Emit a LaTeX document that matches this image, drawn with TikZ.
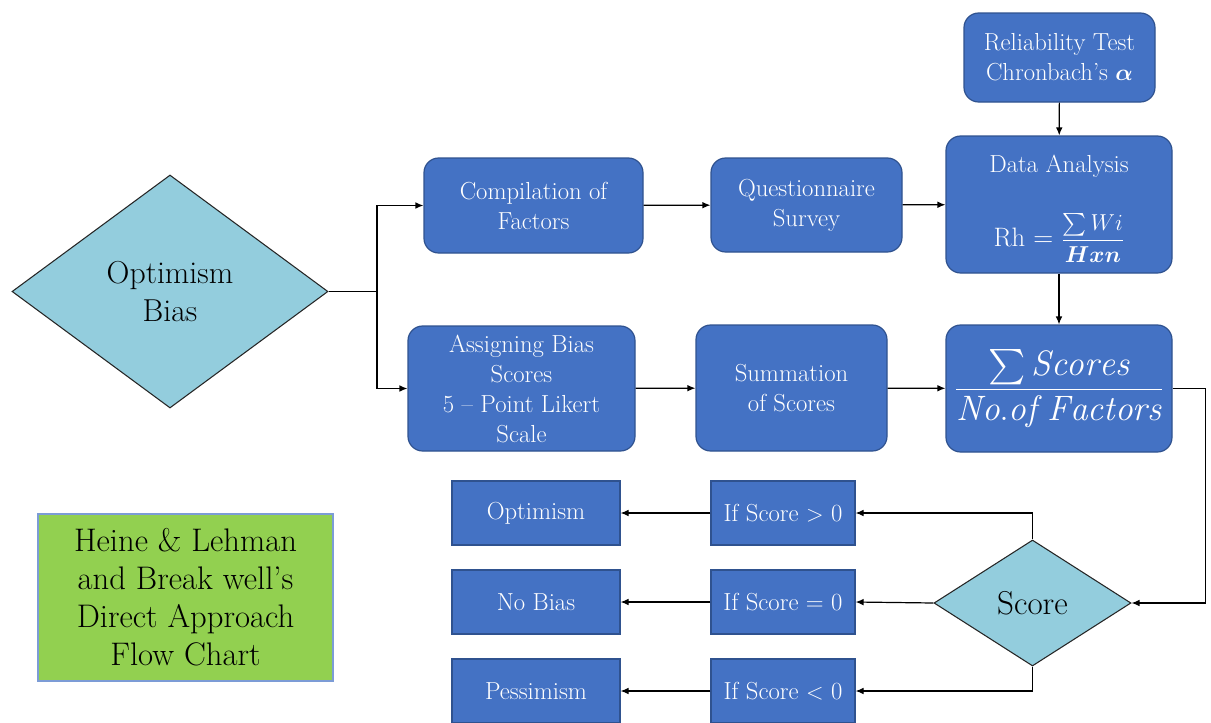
\documentclass[tikz,border=0pt]{standalone}
\usepackage{amsmath}
\usepackage{amssymb}
\usepackage{fontspec}
\usepackage{tikz}
\usetikzlibrary{arrows.meta,shapes.geometric}
\usepackage{xcolor}
\definecolor{boxblue}{HTML}{4472C4}
\definecolor{edgeblue}{HTML}{2F528F}
\definecolor{diamondblue}{HTML}{93CDDD}
\definecolor{notegreen}{HTML}{92D050}

\begin{document}
\begin{tikzpicture}[
  x=0.75pt, y=-0.75pt,
  stepbox/.style={rounded corners=11pt, draw=edgeblue, fill=boxblue, line width=0.9pt,
                  text=white, align=center, inner sep=2pt,
                  font=\fontsize{18.5}{22.5}\selectfont},
  flatbox/.style={stepbox, rounded corners=0pt, minimum width=108pt, minimum height=48pt},
  outbox/.style={flatbox, minimum width=126pt},
  decision/.style={diamond, draw=black!85, fill=diamondblue, line width=0.8pt,
                   inner sep=0pt, align=center, text=black},
  notebox/.style={draw=boxblue!70, fill=notegreen, line width=0.8pt, align=center,
                  font=\fontsize{24.5}{28.5}\selectfont},
  arr/.style={-{Latex[length=6pt,width=5pt]}, line width=0.9pt, draw=black},
  link/.style={line width=0.9pt, draw=black}
]
  \useasboundingbox (0,0) rectangle (1211,722);

  % --- Start decision ---
  \node[decision, minimum width=237pt, minimum height=174.75pt,
        font=\fontsize{23.8}{28}\selectfont] (optbias) at (170,291.5) {Optimism\\Bias};

  % --- Upper row ---
  \node[stepbox, minimum width=164.25pt, minimum height=71.25pt] (compile)
       at (533.5,205.5) {Compilation of\\Factors};
  \node[stepbox, minimum width=143.25pt, minimum height=70.5pt] (survey)
       at (806.5,205) {Questionnaire\\Survey};
  \node[stepbox, minimum width=169.5pt, minimum height=102.75pt] (analysis)
       at (1059,204.5) {};
  \node[text=white, align=center, font=\fontsize{18.5}{22.5}\selectfont] (analysisttl)
       at (1059,166) {Data Analysis};
  \node[text=white, align=center, font=\fontsize{20}{24}\selectfont] (analysisfrm)
       at (1059,238) {Rh $=$ {\fontsize{17}{20}\selectfont
        $\dfrac{{\textstyle\sum}\, Wi}{\boldsymbol{Hxn}}$}};
  \node[stepbox, minimum width=143.25pt, minimum height=66.75pt] (reliab)
       at (1059.5,57.5) {Reliability Test\\Chronbach's $\boldsymbol{\alpha}$};

  % --- Lower row ---
  \node[stepbox, minimum width=170.25pt, minimum height=93.75pt] (assign)
       at (521.5,388.5) {Assigning Bias\\Scores\\5 -- Point Likert\\Scale};
  \node[stepbox, minimum width=143.25pt, minimum height=94.5pt] (summ)
       at (791.5,388) {Summation\\of Scores};
  \node[stepbox, minimum width=169.5pt, minimum height=95.25pt,
        font=\fontsize{26.5}{30}\selectfont] (ratio)
       at (1059,388.5) {$\dfrac{{\textstyle\sum}\,\mathit{Scores}}{\mathit{No.of\ Factors}}$};

  % --- Score decision and outcomes ---
  \node[decision, minimum width=147.75pt, minimum height=94.5pt,
        font=\fontsize{24.8}{27}\selectfont] (score) at (1032.5,603) {Score};

  \node[flatbox] (ifgt) at (783,513) {If Score $>$ 0};
  \node[flatbox] (ifeq) at (783,602) {If Score = 0};
  \node[flatbox] (iflt) at (783,691) {If Score $<$ 0};

  \node[outbox] (optim) at (536,513) {Optimism};
  \node[outbox] (nobias) at (536,602) {No Bias};
  \node[outbox] (pessim) at (536,691) {Pessimism};

  % --- Legend note ---
  \node[notebox, minimum width=221.25pt, minimum height=125.25pt] (note)
       at (185.5,597.5) {Heine \& Lehman\\and Break well's\\Direct Approach\\Flow Chart};

  % --- Connectors ---
  \coordinate (split) at (377,291.5);
  \draw[link] (optbias.east) -- (split);
  \draw[arr] (split) |- (compile.west);
  \draw[arr] (split) |- (assign.west);
  \draw[arr] (compile) -- (survey);
  \draw[arr] (survey) -- (analysis);
  \draw[arr] (reliab) -- (analysis);
  \draw[arr] (analysis) -- (ratio);
  \draw[arr] (assign) -- (summ);
  \draw[arr] (summ) -- (ratio);
  \draw[arr] (ratio.east) -- ++(33,0) |- (score.east);
  \draw[arr] (score.north) |- (ifgt.east);
  \draw[arr] (score.west) -- (ifeq.east);
  \draw[arr] (score.south) |- (iflt.east);
  \draw[arr] (ifgt) -- (optim);
  \draw[arr] (ifeq) -- (nobias);
  \draw[arr] (iflt) -- (pessim);
\end{tikzpicture}
\end{document}
